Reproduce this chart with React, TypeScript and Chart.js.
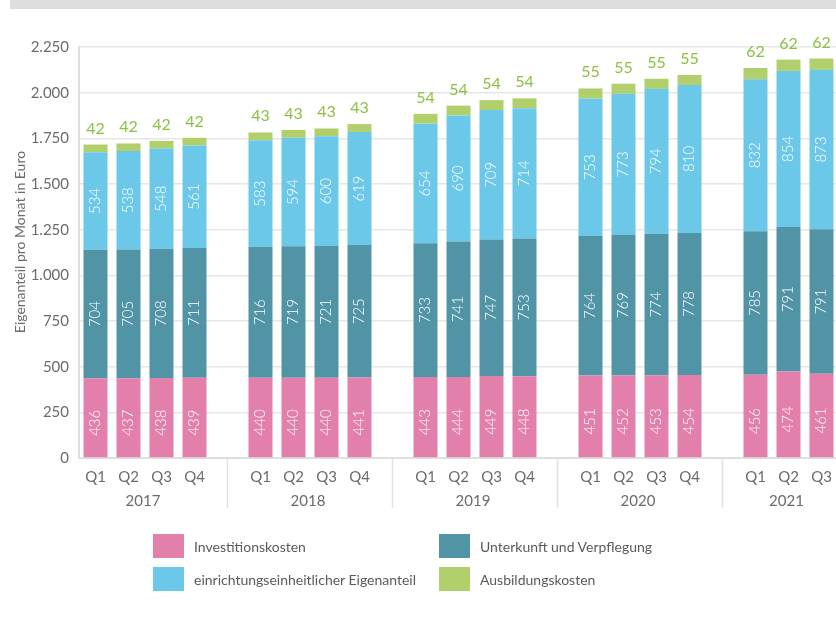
import React, { useEffect, useRef } from "react";
import { Chart, registerables } from "chart.js";

Chart.register(...registerables);

const years = ["2017", "2018", "2019", "2020", "2021"];
const quarterCounts = [4, 4, 4, 4, 3];
const quarterLabels = ["Q1", "Q2", "Q3", "Q4"];

const investitionskosten = [436, 437, 438, 439, 440, 440, 440, 441, 443, 444, 449, 448, 451, 452, 453, 454, 456, 474, 461];
const unterkunft = [704, 705, 708, 711, 716, 719, 721, 725, 733, 741, 747, 753, 764, 769, 774, 778, 785, 791, 791];
const eee = [534, 538, 548, 561, 583, 594, 600, 619, 654, 690, 709, 714, 753, 773, 794, 810, 832, 854, 873];
const ausbildung = [42, 42, 42, 42, 43, 43, 43, 43, 54, 54, 54, 54, 55, 55, 55, 55, 62, 62, 62];

const yTicks = [0, 250, 500, 750, 1000, 1250, 1500, 1750, 2000, 2250];

const seriesNames = ["Investitionskosten", "Unterkunft und Verpflegung", "einrichtungseinheitlicher Eigenanteil", "Ausbildungskosten"];
const seriesColors = ["#e280ab", "#5094a6", "#6cc8e9", "#b1cf6a"];

const FONT = "Lato, 'Open Sans', sans-serif";
const GREY = "#6b6b6b";

function buildLabels(): string[] {
  const out: string[] = [];
  quarterCounts.forEach((c, i) => {
    for (let q = 0; q < c; q++) out.push(quarterLabels[q]);
    if (i < quarterCounts.length - 1) out.push("");
  });
  return out;
}

function pad(values: number[]): (number | null)[] {
  const out: (number | null)[] = [];
  let k = 0;
  quarterCounts.forEach((c, i) => {
    for (let q = 0; q < c; q++) out.push(values[k++]);
    if (i < quarterCounts.length - 1) out.push(null);
  });
  return out;
}

const labelPlugin = {
  id: "customLabels",
  afterDatasetsDraw(chart: any) {
    const ctx = chart.ctx;
    ctx.save();
    for (let d = 0; d < 3; d++) {
      const meta = chart.getDatasetMeta(d);
      meta.data.forEach((el: any, i: number) => {
        const v = chart.data.datasets[d].data[i];
        if (v == null) return;
        const yMid = (el.y + el.base) / 2 + (d === 0 ? 5 : 0);
        ctx.save();
        ctx.translate(el.x, yMid);
        ctx.rotate(-Math.PI / 2);
        ctx.fillStyle = "#ffffff";
        ctx.font = `300 15px ${FONT}`;
        ctx.textAlign = "center";
        ctx.textBaseline = "middle";
        ctx.fillText(String(v), 0, 0);
        ctx.restore();
      });
    }
    const meta = chart.getDatasetMeta(3);
    meta.data.forEach((el: any, i: number) => {
      const v = chart.data.datasets[3].data[i];
      if (v == null) return;
      ctx.fillStyle = "#8dc043";
      ctx.font = `16px ${FONT}`;
      ctx.textAlign = "center";
      ctx.textBaseline = "alphabetic";
      ctx.fillText(String(v), el.x, el.y - 11);
    });
    ctx.restore();
  },
  afterDraw(chart: any) {
    const ctx = chart.ctx;
    const xs = chart.scales.x;
    const area = chart.chartArea;
    ctx.save();
    let idx = 0;
    quarterCounts.forEach((c, i) => {
      const first = xs.getPixelForValue(idx);
      const last = xs.getPixelForValue(idx + c - 1);
      ctx.fillStyle = GREY;
      ctx.font = `15px ${FONT}`;
      ctx.textAlign = "center";
      ctx.textBaseline = "middle";
      ctx.fillText(years[i], (first + last) / 2 - 2, 501);
      idx += c;
      if (i < quarterCounts.length - 1) {
        const sx = xs.getPixelForValue(idx);
        ctx.strokeStyle = "#e2e2e2";
        ctx.lineWidth = 1.5;
        ctx.beginPath();
        ctx.moveTo(sx, area.bottom);
        ctx.lineTo(sx, 508);
        ctx.stroke();
        idx += 1;
      }
    });
    ctx.translate(20, 242);
    ctx.rotate(-Math.PI / 2);
    ctx.fillStyle = GREY;
    ctx.font = `14px ${FONT}`;
    ctx.textAlign = "center";
    ctx.textBaseline = "middle";
    ctx.fillText("Eigenanteil pro Monat in Euro", 0, 0);
    ctx.restore();
  },
};

export default function App() {
  const ref = useRef<HTMLCanvasElement>(null);
  useEffect(() => {
    document.body.style.margin = "0";
    const labels = buildLabels();
    const raw = [investitionskosten, unterkunft, eee, ausbildung];
    const chart = new Chart(ref.current!, {
      type: "bar",
      data: {
        labels,
        datasets: raw.map((vals, i) => ({
          label: seriesNames[i],
          data: pad(vals),
          backgroundColor: seriesColors[i],
          borderWidth: 0,
          barPercentage: 1,
          categoryPercentage: 24 / 33,
        })),
      },
      options: {
        responsive: false,
        animation: false,
        devicePixelRatio: 1,
        layout: { padding: { top: 47, right: 8, left: 0, bottom: 0 } },
        plugins: { legend: { display: false }, tooltip: { enabled: false } },
        scales: {
          x: {
            stacked: true,
            grid: { display: false, drawTicks: false },
            border: { display: true, color: "#dedede", width: 2 },
            ticks: {
              color: GREY,
              font: { size: 15, family: FONT },
              padding: 10,
              autoSkip: false,
              maxRotation: 0,
            },
            afterFit: (s: any) => {
              s.height = 160;
            },
          },
          y: {
            stacked: true,
            min: 0,
            max: 2250,
            afterBuildTicks: (s: any) => {
              s.ticks = yTicks.map((v) => ({ value: v }));
            },
            grid: { color: "#e6e6e6", lineWidth: 1.5, drawTicks: false },
            border: { display: true, color: "#dedede", width: 2 },
            ticks: {
              color: GREY,
              font: { size: 15, family: FONT },
              padding: 10,
              callback: (v: any) => Number(v).toLocaleString("de-DE"),
            },
            afterFit: (s: any) => {
              s.width = 79;
            },
          },
        },
      },
      plugins: [labelPlugin],
    });
    return () => chart.destroy();
  }, []);

  const legendPos = [
    { x: 153, y: 534 },
    { x: 439, y: 534 },
    { x: 153, y: 567 },
    { x: 439, y: 567 },
  ];

  return (
    <div style={{ position: "relative", width: 836, height: 618, overflow: "hidden", background: "#fff", fontFamily: FONT }}>
      <div style={{ position: "absolute", left: 10, top: 0, width: 826, height: 9, background: "#dedede" }} />
      <canvas ref={ref} width={846} height={618} style={{ position: "absolute", left: 0, top: 0 }} />
      {seriesNames.map((name, i) => (
        <div key={name} style={{ position: "absolute", left: legendPos[i].x, top: legendPos[i].y, height: 24, display: "flex", alignItems: "center" }}>
          <div style={{ width: 31, height: 24, background: seriesColors[i] }} />
          <span style={{ marginLeft: 10, fontSize: 14, color: "#5a5a5a", whiteSpace: "nowrap" }}>{name}</span>
        </div>
      ))}
    </div>
  );
}
